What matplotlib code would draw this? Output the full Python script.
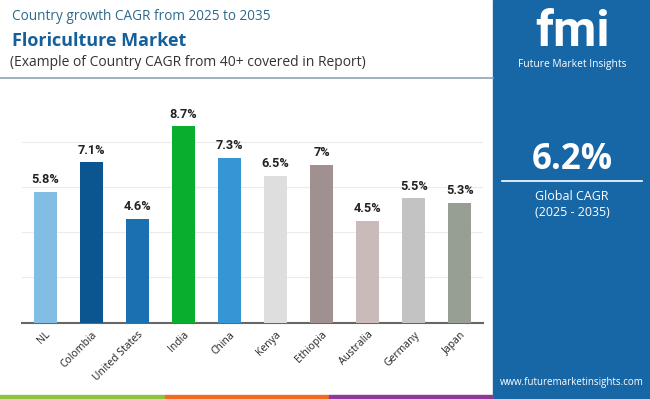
import matplotlib.pyplot as plt
import matplotlib.patches as patches
import numpy as np

# dane z wykresu
countries = ['NL', 'Colombia', 'United States', 'India', 'China', 'Kenya',
             'Ethiopia', 'Australia', 'Germany', 'Japan']
cagr = [5.8, 7.1, 4.6, 8.7, 7.3, 6.5, 7.0, 4.5, 5.5, 5.3]
labels = ['5.8%', '7.1%', '4.6%', '8.7%', '7.3%', '6.5%', '7%', '4.5%', '5.5%', '5.3%']
colors = ['#82bde3', '#0b5690', '#1a70b0', '#0aae2e', '#3595d5', '#dedede',
          '#a09090', '#cbbaba', '#c3c3c3', '#979e93']
global_cagr = '6.2%'

fig = plt.figure(figsize=(6.5, 3.99), dpi=100)
W, H = 650, 399

# tło panelu po prawej
fig.patches.append(patches.Rectangle((493 / W, 0), 1 - 493 / W, 1, transform=fig.transFigure,
                                     color='#1766a6', zorder=0))
# paski na dole
for x0, x1, c in [(0, 165, '#8cc43f'), (165, 329, '#f26b21'), (329, 493, '#8e3a96')]:
    fig.patches.append(patches.Rectangle((x0 / W, 0), (x1 - x0) / W, 4.5 / H,
                                         transform=fig.transFigure, color=c, zorder=1))
# linia pod nagłówkiem
fig.add_artist(plt.Line2D([0, 493 / W], [1 - 78 / H, 1 - 78 / H], color='#8aa4b4', lw=1.2))

fig.text(12 / W, 1 - 17 / H, 'Country growth CAGR from 2025 to 2035', fontsize=9.8,
         color='#2d6a8e', va='center', family='Open Sans')
fig.text(12 / W, 1 - 41 / H, 'Floriculture Market', fontsize=13, fontweight='bold',
         color='#15609a', va='center', family='Open Sans')
fig.text(10 / W, 1 - 62 / H, '(Example of Country CAGR from 40+ covered in Report)', fontsize=10,
         color='#333333', va='center', family='Open Sans')

# logo
fig.text(572 / W, 1 - 33 / H, 'fmi', fontsize=36, fontweight='bold', color='white',
         ha='center', va='center', family='Roboto')
fig.text(572 / W, 1 - 64 / H, 'Future Market Insights', fontsize=7.4, color='white',
         ha='center', va='center', family='Open Sans')

fig.text(572 / W, 1 - 160 / H, global_cagr, fontsize=25, fontweight='bold', color='white',
         ha='center', va='center', family='Open Sans')
fig.add_artist(plt.Line2D([502 / W, 642 / W], [1 - 181 / H, 1 - 181 / H], color='white', lw=1.2))
fig.text(572 / W, 1 - 197 / H, 'Global CAGR', fontsize=9, color='white',
         ha='center', va='center', family='Open Sans')
fig.text(572 / W, 1 - 213 / H, '(2025 - 2035)', fontsize=9, color='white',
         ha='center', va='center', family='Open Sans')
fig.text(572 / W, 1 - 382 / H, 'www.futuremarketinsights.com', fontsize=7, color='white',
         ha='center', va='center', family='Open Sans')

# wykres słupkowy
ax = fig.add_axes([22 / W, 1 - 322.5 / H, 461 / W, (322.5 - 97) / H])
index = np.arange(len(countries))
ax.bar(index, cagr, 0.5, color=colors, zorder=3)
for i, v in enumerate(cagr):
    ax.text(i, v + 0.25, labels[i], ha='center', va='bottom', fontsize=9.2,
            fontweight='bold', color='#222222', family='Roboto')
ax.set_xlim(-0.5, 9.5)
ax.set_ylim(0, 10)
ax.set_yticks([2, 4, 6, 8])
ax.yaxis.grid(True, color='#ececec', lw=0.8, zorder=0)
ax.tick_params(axis='y', left=False, labelleft=False)
ax.tick_params(axis='x', length=0, pad=5)
ax.set_xticks(index)
ax.set_xticklabels(countries, rotation=45, ha='right', rotation_mode='anchor',
                   fontsize=7.5, color='#222222', family='Open Sans')
for s in ['top', 'right', 'left']:
    ax.spines[s].set_visible(False)
ax.spines['bottom'].set_color('#666666')
ax.spines['bottom'].set_linewidth(1.5)

fig.savefig('out.png', dpi=100)
